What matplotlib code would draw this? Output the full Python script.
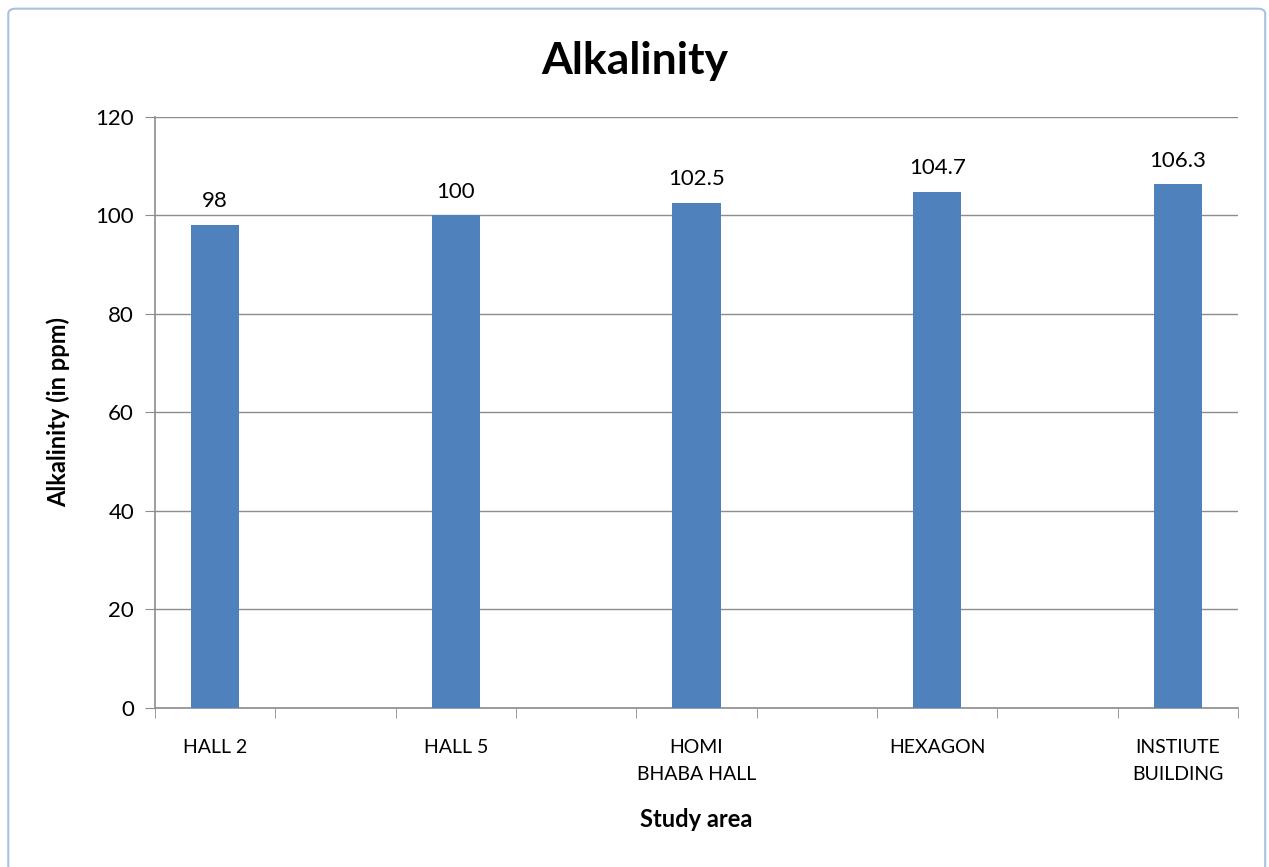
import numpy as np
import matplotlib
import matplotlib.pyplot as plt
from matplotlib.patches import FancyBboxPatch

matplotlib.use('Agg')

plt.rcParams['font.family'] = ['Lato', 'DejaVu Sans']

areas = ["HALL 2", "HALL 5", "HOMI\nBHABA HALL", "HEXAGON", "INSTIUTE\nBUILDING"]
alkalinity = [98, 100, 102.5, 104.7, 106.3]
value_labels = ["98", "100", "102.5", "104.7", "106.3"]

fig = plt.figure(figsize=(12.69, 8.67), dpi=100)
ax = fig.add_axes([0.1221, 0.1834, 0.8535, 0.6817])

# border round the chart
fig.patches.append(FancyBboxPatch((0.0065, -0.02), 0.9905, 1.01, boxstyle="round,pad=0,rounding_size=0.006",
                                  transform=fig.transFigure, fill=False, edgecolor='#a9c0e4', linewidth=1.5))

x = np.arange(len(areas)) * 2
bars = ax.bar(x, alkalinity, width=0.4, color='#4f81bd', zorder=3)
for xi, v, lab in zip(x, alkalinity, value_labels):
    ax.annotate(lab, (xi, v), xytext=(0, 10), textcoords='offset points',
                ha='center', va='bottom', fontsize=16)

ax.set_xlim(-0.5, 8.5)
ax.set_ylim(0, 120)
ax.set_yticks(range(0, 121, 20))
ax.yaxis.grid(True, color='#8c8c8c', linewidth=1)
ax.set_xticks(x)
ax.set_xticklabels(areas, fontsize=14, linespacing=1.75)
ax.set_xticks(np.arange(-0.5, 9, 1), minor=True)
ax.tick_params(axis='x', which='major', length=0, pad=22)
ax.tick_params(axis='x', which='minor', length=7, color='#8c8c8c')
ax.tick_params(axis='y', length=7, color='#8c8c8c', labelsize=16, pad=8)

for s in ['top', 'right']:
    ax.spines[s].set_visible(False)
for s in ['left', 'bottom']:
    ax.spines[s].set_color('#8c8c8c')
    ax.spines[s].set_linewidth(1.2)

fig.text(0.5, 0.93, 'Alkalinity', fontsize=32, fontweight='bold', ha='center', va='center')
ax.set_ylabel('Alkalinity (in ppm)', fontsize=17, fontweight='bold', labelpad=18)
ax.set_xlabel('Study area', fontsize=17, fontweight='bold', labelpad=18)

fig.savefig('out.png', dpi=100)
